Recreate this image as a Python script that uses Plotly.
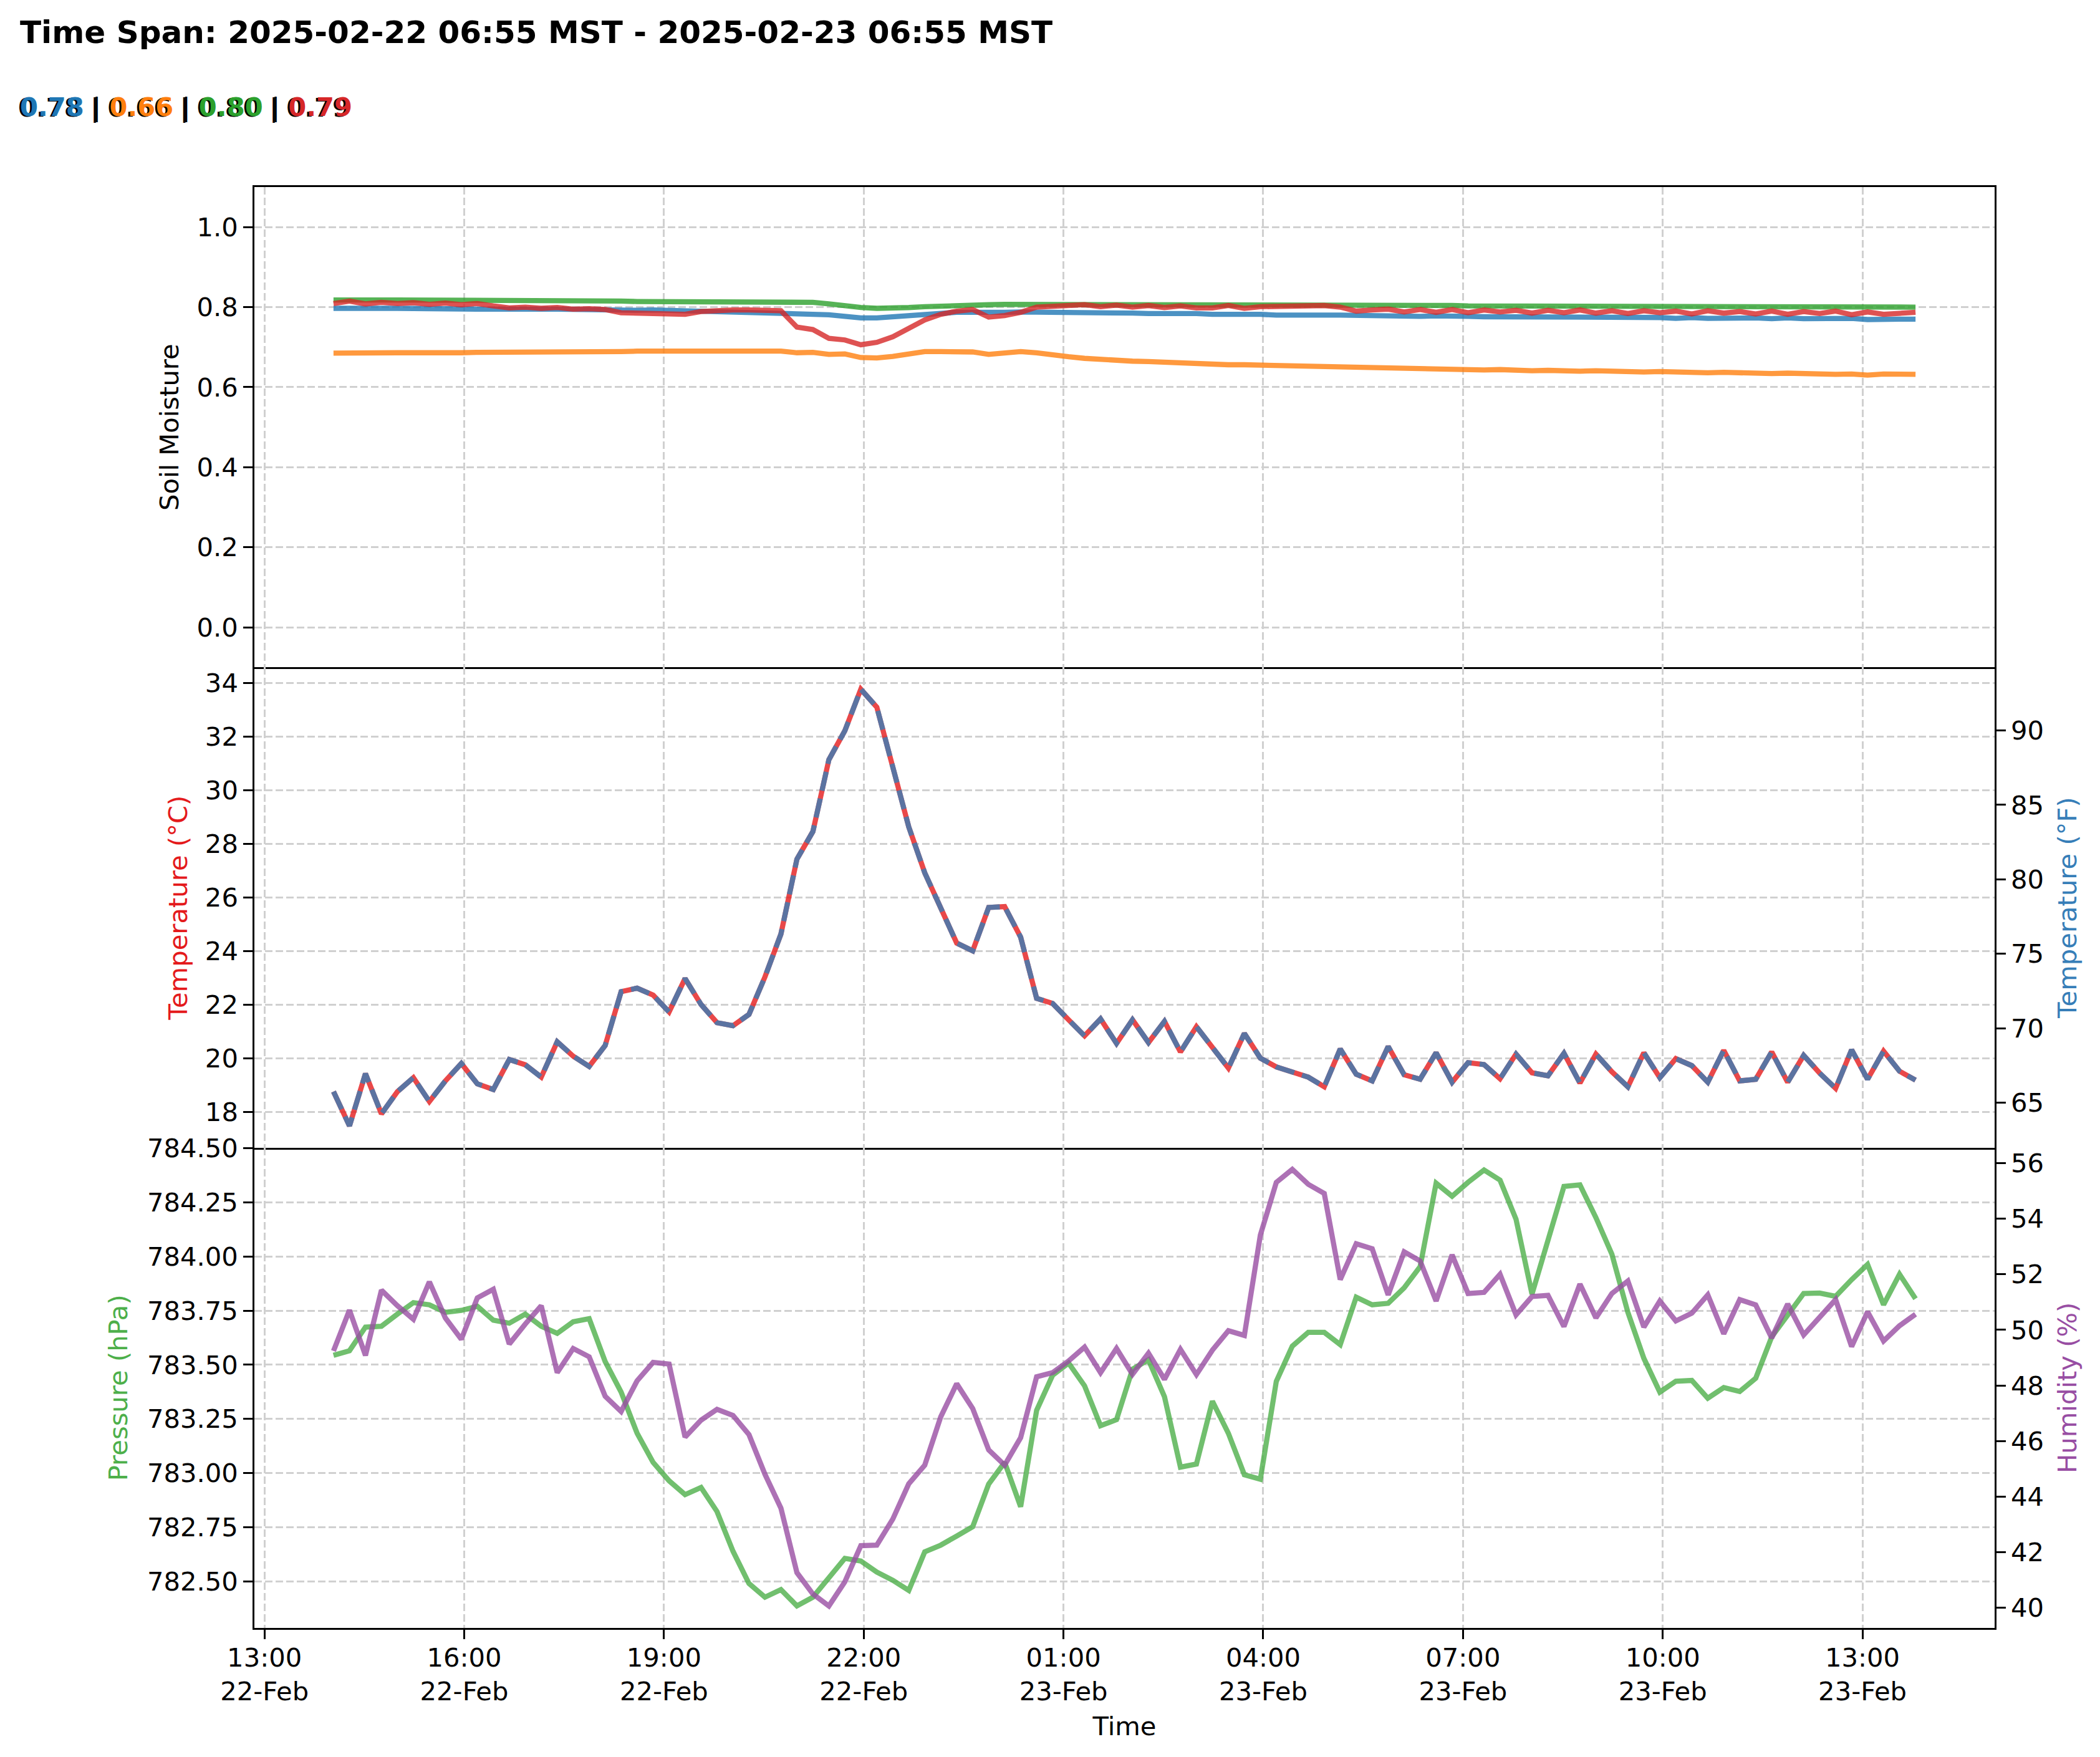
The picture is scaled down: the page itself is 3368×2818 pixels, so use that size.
import plotly.graph_objects as go
import pandas as pd

# ---------------- data ----------------
times = pd.date_range("2025-02-22 14:02:12", periods=100, freq="864s")

soil_blue = [0.797, 0.798, 0.796, 0.797, 0.797, 0.796, 0.796, 0.795, 0.796, 0.795,
             0.795, 0.794, 0.795, 0.795, 0.795, 0.794, 0.794, 0.793, 0.793, 0.792,
             0.793, 0.792, 0.791, 0.791, 0.790, 0.789, 0.788, 0.787, 0.786, 0.785,
             0.783, 0.781, 0.777, 0.773, 0.773, 0.776, 0.780, 0.783, 0.785, 0.787,
             0.787, 0.786, 0.787, 0.788, 0.788, 0.787, 0.786, 0.786, 0.785, 0.786,
             0.785, 0.784, 0.785, 0.783, 0.784, 0.782, 0.783, 0.781, 0.782, 0.780,
             0.781, 0.780, 0.780, 0.780, 0.779, 0.779, 0.778, 0.778, 0.777, 0.778,
             0.776, 0.777, 0.776, 0.776, 0.775, 0.776, 0.774, 0.775, 0.774, 0.775,
             0.773, 0.775, 0.773, 0.774, 0.772, 0.774, 0.772, 0.773, 0.771, 0.773,
             0.771, 0.773, 0.771, 0.772, 0.770, 0.772, 0.769, 0.771, 0.770, 0.770]

soil_orange = [0.685, 0.686, 0.685, 0.685, 0.686, 0.686, 0.685, 0.686, 0.686, 0.687,
               0.687, 0.687, 0.686, 0.688, 0.688, 0.689, 0.688, 0.687, 0.689, 0.690,
               0.690, 0.689, 0.691, 0.692, 0.692, 0.692, 0.692, 0.691, 0.690, 0.686,
               0.687, 0.682, 0.683, 0.674, 0.673, 0.677, 0.683, 0.689, 0.689, 0.689,
               0.688, 0.682, 0.684, 0.689, 0.686, 0.680, 0.676, 0.672, 0.669, 0.667,
               0.665, 0.664, 0.662, 0.661, 0.658, 0.658, 0.656, 0.656, 0.655, 0.655,
               0.652, 0.652, 0.651, 0.651, 0.648, 0.648, 0.647, 0.646, 0.645, 0.646,
               0.644, 0.644, 0.643, 0.644, 0.642, 0.641, 0.642, 0.640, 0.640, 0.641,
               0.639, 0.640, 0.638, 0.639, 0.637, 0.638, 0.636, 0.637, 0.635, 0.636,
               0.634, 0.635, 0.633, 0.634, 0.632, 0.633, 0.630, 0.633, 0.631, 0.632]

soil_green = [0.818, 0.819, 0.818, 0.818, 0.818, 0.818, 0.817, 0.817, 0.817, 0.817,
              0.817, 0.816, 0.816, 0.816, 0.816, 0.815, 0.815, 0.815, 0.815, 0.814,
              0.814, 0.814, 0.814, 0.814, 0.814, 0.814, 0.814, 0.814, 0.814, 0.813,
              0.812, 0.808, 0.803, 0.799, 0.797, 0.797, 0.799, 0.801, 0.803, 0.805,
              0.806, 0.806, 0.807, 0.807, 0.807, 0.807, 0.807, 0.806, 0.806, 0.806,
              0.806, 0.806, 0.806, 0.806, 0.806, 0.806, 0.806, 0.805, 0.805, 0.805,
              0.805, 0.805, 0.805, 0.805, 0.805, 0.804, 0.804, 0.804, 0.804, 0.804,
              0.804, 0.803, 0.803, 0.803, 0.803, 0.803, 0.803, 0.802, 0.802, 0.802,
              0.802, 0.802, 0.802, 0.802, 0.801, 0.801, 0.801, 0.801, 0.801, 0.801,
              0.801, 0.800, 0.800, 0.800, 0.800, 0.800, 0.800, 0.800, 0.800, 0.800]

soil_red = [0.809, 0.815, 0.808, 0.812, 0.809, 0.811, 0.807, 0.810, 0.806, 0.809,
            0.803, 0.798, 0.800, 0.797, 0.799, 0.795, 0.796, 0.794, 0.786, 0.785,
            0.787, 0.786, 0.782, 0.789, 0.792, 0.793, 0.793, 0.792, 0.791, 0.750,
            0.744, 0.722, 0.718, 0.706, 0.712, 0.726, 0.748, 0.768, 0.782, 0.790,
            0.794, 0.775, 0.779, 0.787, 0.800, 0.801, 0.803, 0.806, 0.801, 0.805,
            0.800, 0.804, 0.799, 0.803, 0.798, 0.798, 0.804, 0.797, 0.801, 0.802,
            0.803, 0.804, 0.804, 0.800, 0.790, 0.793, 0.795, 0.788, 0.794, 0.787,
            0.794, 0.786, 0.793, 0.788, 0.792, 0.785, 0.792, 0.786, 0.793, 0.785,
            0.791, 0.784, 0.791, 0.786, 0.790, 0.783, 0.791, 0.785, 0.789, 0.783,
            0.790, 0.782, 0.789, 0.784, 0.790, 0.781, 0.788, 0.782, 0.786, 0.787]

temp_c = [18.75, 17.47, 19.42, 17.92, 18.75, 19.27, 18.38, 19.15, 19.80, 19.04,
          18.83, 19.95, 19.75, 19.29, 20.61, 20.07, 19.69, 20.47, 22.48, 22.61,
          22.35, 21.72, 22.97, 22.00, 21.32, 21.21, 21.63, 23.03, 24.63, 27.42,
          28.45, 31.13, 32.21, 33.76, 33.09, 30.78, 28.62, 26.91, 25.65, 24.29,
          24.00, 25.62, 25.65, 24.51, 22.23, 22.04, 21.43, 20.83, 21.46, 20.55,
          21.43, 20.58, 21.37, 20.23, 21.17, 20.40, 19.63, 20.92, 20.00, 19.67,
          19.47, 19.29, 18.93, 20.34, 19.40, 19.15, 20.43, 19.38, 19.21, 20.20,
          19.10, 19.83, 19.76, 19.23, 20.15, 19.45, 19.34, 20.18, 19.07, 20.15,
          19.49, 18.93, 20.20, 19.27, 19.98, 19.72, 19.10, 20.29, 19.15, 19.21,
          20.23, 19.10, 20.10, 19.44, 18.87, 20.31, 19.21, 20.26, 19.51, 19.18]
temp_f = [c * 1.8 + 32 for c in temp_c]

pressure = [783.544, 783.565, 783.674, 783.678, 783.734, 783.787, 783.777, 783.742, 783.751, 783.770,
            783.706, 783.692, 783.734, 783.678, 783.645, 783.699, 783.713, 783.515, 783.374, 783.184,
            783.050, 782.965, 782.901, 782.934, 782.823, 782.640, 782.491, 782.428, 782.463, 782.388,
            782.428, 782.520, 782.607, 782.595, 782.544, 782.506, 782.459, 782.637, 782.668, 782.710,
            782.753, 782.950, 783.050, 782.845, 783.290, 783.452, 783.508, 783.403, 783.219, 783.247,
            783.480, 783.523, 783.353, 783.028, 783.042, 783.332, 783.184, 782.993, 782.972, 783.424,
            783.586, 783.650, 783.650, 783.593, 783.812, 783.777, 783.784, 783.855, 783.953, 784.338,
            784.278, 784.342, 784.399, 784.352, 784.172, 783.826, 784.080, 784.323, 784.330, 784.179,
            784.010, 783.742, 783.530, 783.374, 783.424, 783.428, 783.346, 783.395, 783.377, 783.438,
            783.629, 783.730, 783.829, 783.831, 783.816, 783.893, 783.963, 783.777, 783.918, 783.805]

humidity = [49.24, 50.71, 49.08, 51.43, 50.87, 50.38, 51.73, 50.43, 49.66, 51.15,
            51.46, 49.49, 50.21, 50.87, 48.46, 49.33, 49.03, 47.61, 47.06, 48.17,
            48.83, 48.77, 46.14, 46.75, 47.14, 46.92, 46.23, 44.80, 43.58, 41.26,
            40.49, 40.06, 40.93, 42.23, 42.25, 43.19, 44.46, 45.13, 46.87, 48.06,
            47.17, 45.68, 45.13, 46.12, 48.31, 48.46, 48.88, 49.38, 48.46, 49.33,
            48.40, 49.16, 48.22, 49.30, 48.39, 49.27, 49.97, 49.80, 53.41, 55.31,
            55.78, 55.24, 54.91, 51.81, 53.10, 52.92, 51.26, 52.81, 52.48, 51.04,
            52.70, 51.31, 51.35, 52.00, 50.54, 51.20, 51.24, 50.12, 51.65, 50.43,
            51.31, 51.76, 50.10, 51.04, 50.32, 50.60, 51.26, 49.86, 51.09, 50.90,
            49.71, 50.93, 49.82, 50.49, 51.09, 49.40, 50.65, 49.60, 50.15, 50.56]

soil_summary = ["0.78", "0.66", "0.80", "0.79"]
soil_colors = ["#1f77b4", "#ff7f0e", "#2ca02c", "#d62728"]
soil_line_colors = ["rgba(31,119,180,0.8)", "rgba(255,127,14,0.8)",
                    "rgba(44,160,44,0.8)", "rgba(214,39,39,0.8)"]

x_tickvals = pd.date_range("2025-02-22 13:00", periods=9, freq="3h")
x_ticktext = ["13:00<br>22-Feb", "16:00<br>22-Feb", "19:00<br>22-Feb", "22:00<br>22-Feb",
              "01:00<br>23-Feb", "04:00<br>23-Feb", "07:00<br>23-Feb", "10:00<br>23-Feb",
              "13:00<br>23-Feb"]
x_range = ["2025-02-22 12:50:55", "2025-02-23 14:59:05"]

soil_ticks = [0.0, 0.2, 0.4, 0.6, 0.8, 1.0]
tempc_ticks = [18, 20, 22, 24, 26, 28, 30, 32, 34]
tempf_ticks = [65, 70, 75, 80, 85, 90]
press_ticks = [782.50, 782.75, 783.00, 783.25, 783.50, 783.75, 784.00, 784.25, 784.50]
hum_ticks = [40, 42, 44, 46, 48, 50, 52, 54, 56]

# ---------------- figure ----------------
W, H = 3368, 2818
L, R, T, B = 408, 169, 300, 207
PW, PH = W - L - R, H - T - B
FONT = "DejaVu Sans"
FS = 41.7
LW = 8.3

fig = go.Figure()

for vals, col in zip([soil_blue, soil_orange, soil_green, soil_red], soil_line_colors):
    fig.add_trace(go.Scatter(x=times, y=vals, mode="lines", xaxis="x", yaxis="y",
                             line=dict(color=col, width=LW), showlegend=False))

fig.add_trace(go.Scatter(x=times, y=temp_c, mode="lines", xaxis="x2", yaxis="y2",
                         line=dict(color="rgba(228,26,28,0.8)", width=LW), showlegend=False))
fig.add_trace(go.Scatter(x=times, y=temp_f, mode="lines", xaxis="x2", yaxis="y4",
                         line=dict(color="rgba(55,126,184,0.8)", width=LW, dash="31px,13px"),
                         showlegend=False))
fig.add_trace(go.Scatter(x=times, y=pressure, mode="lines", xaxis="x3", yaxis="y3",
                         line=dict(color="rgba(77,175,74,0.8)", width=LW), showlegend=False))
fig.add_trace(go.Scatter(x=times, y=humidity, mode="lines", xaxis="x3", yaxis="y5",
                         line=dict(color="rgba(152,78,163,0.8)", width=LW), showlegend=False))

tickfont = dict(family=FONT, size=FS, color="black")
common = dict(showline=True, linecolor="black", linewidth=3.3, ticks="outside",
              ticklen=14.6, tickwidth=3.3, tickcolor="black", tickfont=tickfont,
              zeroline=False, automargin=False)
grid = dict(showgrid=True, gridcolor="#d0d0d0", gridwidth=3.0, griddash="12px,5px")

def xa(anchor, show, mirror):
    d = dict(common, **grid)
    d.update(anchor=anchor, domain=[0, 1], type="date", range=x_range, mirror=mirror,
             tickmode="array", tickvals=list(x_tickvals), ticktext=x_ticktext)
    if not show:
        d.update(ticks="", showticklabels=False)
    return d

def ya(dom, anchor, rng, tickvals, fmt, title, color, standoff):
    d = dict(common, **grid)
    d.update(domain=dom, anchor=anchor, range=rng, tickmode="array", tickvals=tickvals,
             tickformat=fmt, mirror=True,
             title=dict(text=title, font=dict(family=FONT, size=FS, color=color), standoff=standoff))
    return d

def yr(over, anchor, rng, tickvals, title, color):
    d = dict(common)
    d.update(overlaying=over, side="right", anchor=anchor, range=rng, tickmode="array",
             tickvals=tickvals, showgrid=False,
             title=dict(text=title, font=dict(family=FONT, size=FS, color=color), standoff=24))
    return d

x3 = xa("y3", True, False)
x3["ticklabelstandoff"] = -6
x3["title"] = dict(text="Time", font=dict(family=FONT, size=FS, color="black"), standoff=18)

layout = dict(
    width=W, height=H, template="none",
    margin=dict(l=L, r=R, t=T, b=B, pad=0),
    paper_bgcolor="white", plot_bgcolor="white", showlegend=False,
    font=dict(family=FONT, size=FS, color="black"),
    xaxis=xa("y", False, True), xaxis2=xa("y2", False, False), xaxis3=x3,
    yaxis=ya([2/3, 1], "x", [-0.1, 1.1], soil_ticks, ".1f", "Soil Moisture", "black", 16),
    yaxis2=ya([1/3, 2/3], "x2", [16.66, 34.575], tempc_ticks, "d", "Temperature (°C)", "#e41a1c", 16),
    yaxis3=ya([0, 1/3], "x3", [782.286, 784.502], press_ticks, ".2f", "Pressure (hPa)", "#4daf4a", 19),
    yaxis4=yr("y2", "x2", [16.66 * 1.8 + 32, 34.575 * 1.8 + 32], tempf_ticks, "Temperature (°F)", "#377eb8"),
    yaxis5=yr("y3", "x3", [39.27, 56.56], hum_ticks, "Humidity (%)", "#984ea3"),
)
fig.update_layout(**layout)

def px_x(px):
    return (px - L) / PW

def px_y(py):
    return (H - B - py) / PH

fig.add_annotation(text="<b>Time Span: 2025-02-22 06:55 MST - 2025-02-23 06:55 MST</b>",
                   xref="paper", yref="paper", x=px_x(30), y=px_y(52),
                   xanchor="left", yanchor="middle", showarrow=False,
                   font=dict(family=FONT, size=50, color="black"))

sep = " | "
black_txt = sep.join("<b>" + s + "</b>" for s in soil_summary)
color_txt = sep.join("<b><span style='color:%s'>%s</span></b>" % (c, s)
                     for s, c in zip(soil_summary, soil_colors))
fig.add_annotation(text=black_txt, xref="paper", yref="paper", x=px_x(30), y=px_y(172),
                   xanchor="left", yanchor="middle", showarrow=False, xshift=-3, yshift=-1,
                   font=dict(family=FONT, size=FS, color="black"))
fig.add_annotation(text=color_txt, xref="paper", yref="paper", x=px_x(30), y=px_y(172),
                   xanchor="left", yanchor="middle", showarrow=False,
                   font=dict(family=FONT, size=FS, color="black"))

fig.write_html("out.html")
